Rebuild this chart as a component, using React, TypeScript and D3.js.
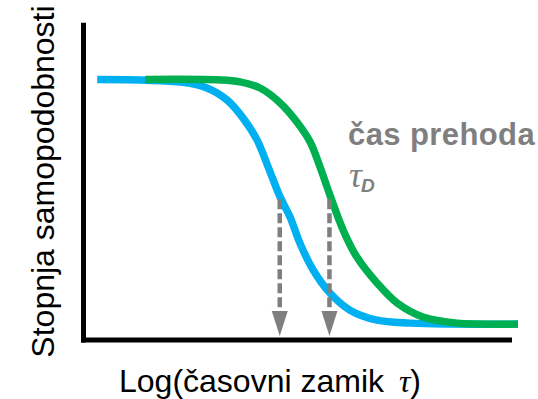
import React from 'react';
import * as d3 from 'd3';

// log(tau) positions and similarity values
const blueX = [0.32, 2.32, 2.88, 3.35, 3.72, 4.05, 4.31, 4.59, 4.82, 5.05, 5.36, 5.75, 6.22, 6.85, 7.62, 8.55, 10.14];
const blueY = [1.0, 0.988, 0.965, 0.916, 0.843, 0.753, 0.642, 0.519, 0.438, 0.331, 0.221, 0.127, 0.057, 0.016, 0.004, 0, 0];

const greenX = [1.44, 3.19, 3.65, 4.12, 4.59, 4.98, 5.29, 5.52, 5.75, 6.06, 6.38, 6.85, 7.32, 7.92, 8.72, 10.14];
const greenY = [1.0, 0.998, 0.99, 0.965, 0.904, 0.826, 0.744, 0.642, 0.528, 0.384, 0.274, 0.168, 0.086, 0.029, 0.004, 0];

// transition times (tau_D) for the two curves, and the level where they are marked
const tauD = [4.58, 5.74];
const markLevel = 0.51;

const xDomain = [0, 10];
const yDomain = [-0.065, 1.232];

const BLUE = '#00b0f0';
const GREEN = '#00b050';
const GRAY = '#7f7f7f';

const App = () => {
  const width = 538;
  const height = 399;

  const x = d3.scaleLinear().domain(xDomain).range([83.5, 512]);
  const y = d3.scaleLinear().domain(yDomain).range([340, 22.7]);

  const line = d3.line<[number, number]>()
    .x(d => x(d[0]))
    .y(d => y(d[1]))
    .curve(d3.curveCatmullRom.alpha(0.5));

  const bluePts = blueX.map((v, i) => [v, blueY[i]] as [number, number]);
  const greenPts = greenX.map((v, i) => [v, greenY[i]] as [number, number]);

  const axisY = y(yDomain[0]);
  const tipY = axisY - 4;
  const headH = 25;
  const headW = 16;

  return (
    <svg width={width} height={height} style={{ position: 'absolute', left: 0, top: 0 }}
      fontFamily="'Liberation Sans', Arial, sans-serif">
      {/* curves */}
      <path d={line(bluePts) || ''} fill="none" stroke={BLUE} strokeWidth={7.5} />
      <path d={line(greenPts) || ''} fill="none" stroke={GREEN} strokeWidth={7.5} />

      {/* dashed arrows at tau_D */}
      {tauD.map((t, i) => (
        <g key={i}>
          <line x1={x(t)} x2={x(t)} y1={y(markLevel)} y2={tipY - headH}
            stroke={GRAY} strokeWidth={4.5} strokeDasharray="10,4" />
          <path d={`M${x(t) - headW / 2},${tipY - headH} L${x(t) + headW / 2},${tipY - headH} L${x(t)},${tipY} Z`}
            fill={GRAY} />
        </g>
      ))}

      {/* axes */}
      <line x1={x(0)} x2={x(0)} y1={y(yDomain[1])} y2={axisY + 2.5} stroke="#000" strokeWidth={5} />
      <line x1={x(0) - 2.5} x2={x(xDomain[1])} y1={axisY} y2={axisY} stroke="#000" strokeWidth={5} />

      {/* annotation */}
      <text x={348} y={145} fontSize={31} fontWeight="bold" fill={GRAY} letterSpacing={0.4}>čas prehoda</text>
      <text x={349} y={187} fill={GRAY}>
        <tspan fontFamily="'Liberation Serif', 'Times New Roman', serif" fontStyle="italic" fontSize={36}>τ</tspan>
        <tspan fontSize={19} fontWeight="bold" fontStyle="italic" dy={5} dx={-1}>D</tspan>
      </text>

      {/* axis titles */}
      <text transform="translate(54,181.5) rotate(-90)" textAnchor="middle" fontSize={32} fill="#000">
        Stopnja samopodobnosti
      </text>
      <text x={270} y={392} textAnchor="middle" fontSize={32} fill="#000" xmlSpace="preserve">
        Log(časovni zamik <tspan fontFamily="'Liberation Serif', 'Times New Roman', serif" fontStyle="italic" dx={6}>τ</tspan>)
      </text>
    </svg>
  );
};

export default App;
